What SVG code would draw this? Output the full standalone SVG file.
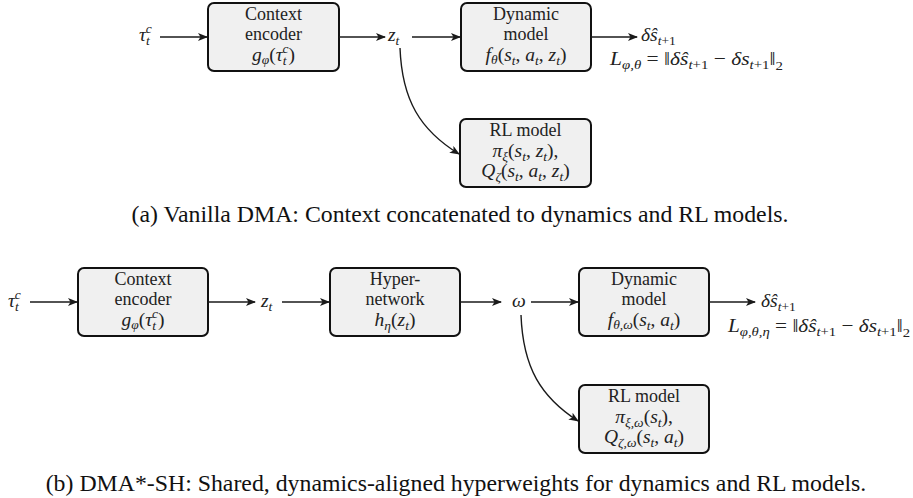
<svg xmlns="http://www.w3.org/2000/svg" width="913" height="498" viewBox="0 0 913 498">
<defs>
<marker id="ah" viewBox="0 0 10 8" refX="9" refY="4" markerWidth="10" markerHeight="8" markerUnits="userSpaceOnUse" orient="auto">
<path d="M0,0 L10,4 L0,8 L2.5,4 z" fill="#1a1a1a"/>
</marker>
<style>
.box{fill:#f0f0f0;stroke:#111;stroke-width:2}
text{font-family:"Liberation Serif","DejaVu Serif",serif}
.t{font-size:18px;fill:#222;text-anchor:middle}
.mt{font-size:19.5px;fill:#222;text-anchor:middle}
.m{font-size:19.5px;fill:#222}
.i{font-style:italic}
.s{font-size:13.5px}
.cap{font-size:23.8px;fill:#111;text-anchor:middle}
.e{fill:none;stroke:#1a1a1a;stroke-width:1.4;marker-end:url(#ah)}
</style>
</defs>
<rect width="913" height="498" fill="#fff"/>

<!-- (a) -->
<g id="a-tau"><text class="m" x="139" y="41"><tspan class="i">τ</tspan><tspan class="s i" dy="4">t</tspan><tspan class="s i" dx="-4" dy="-12">c</tspan></text></g>
<g id="a-enc">
<rect class="box" x="208" y="3" width="131" height="68" rx="6"/>
<text class="t" x="273.5" y="20">Context</text>
<text class="t" x="273.5" y="40">encoder</text>
<text class="mt" x="273.5" y="61"><tspan class="i">g</tspan><tspan class="s i" dy="3">φ</tspan><tspan dy="-3">(</tspan><tspan class="i">τ</tspan><tspan class="s i" dy="4">t</tspan><tspan class="s i" dx="-4" dy="-12">c</tspan><tspan dy="8">)</tspan></text>
</g>
<g id="a-z"><text class="m" x="388" y="41"><tspan class="i">z</tspan><tspan class="s i" dy="4">t</tspan></text></g>
<g id="a-dyn">
<rect class="box" x="461" y="3" width="130" height="68" rx="6"/>
<text class="t" x="526" y="20">Dynamic</text>
<text class="t" x="526" y="40">model</text>
<text class="mt" x="526" y="61"><tspan class="i">f</tspan><tspan class="s i" dy="3">θ</tspan><tspan dy="-3">(</tspan><tspan class="i">s</tspan><tspan class="s i" dy="4">t</tspan><tspan dy="-4">, </tspan><tspan class="i">a</tspan><tspan class="s i" dy="4">t</tspan><tspan dy="-4">, </tspan><tspan class="i">z</tspan><tspan class="s i" dy="4">t</tspan><tspan dy="-4">)</tspan></text>
</g>
<g id="a-out"><text class="m" x="641" y="41"><tspan class="i">δŝ</tspan><tspan class="s i" dy="4">t</tspan><tspan class="s">+1</tspan></text></g>
<g id="a-loss"><text class="m" x="610" y="65" textLength="173" lengthAdjust="spacingAndGlyphs"><tspan class="i">L</tspan><tspan class="s i" dy="4">φ,θ</tspan><tspan dy="-4"> = ‖</tspan><tspan class="i">δŝ</tspan><tspan class="s i" dy="4">t</tspan><tspan class="s">+1</tspan><tspan dy="-4"> − </tspan><tspan class="i">δs</tspan><tspan class="s i" dy="4">t</tspan><tspan class="s">+1</tspan><tspan dy="-4">‖</tspan><tspan class="s" dy="5">2</tspan></text></g>
<g id="a-rl">
<rect class="box" x="460" y="119" width="131" height="68" rx="6"/>
<text class="t" x="525.5" y="136">RL model</text>
<text class="mt" x="525.5" y="157"><tspan class="i">π</tspan><tspan class="s i" dy="4">ξ</tspan><tspan dy="-4">(</tspan><tspan class="i">s</tspan><tspan class="s i" dy="4">t</tspan><tspan dy="-4">, </tspan><tspan class="i">z</tspan><tspan class="s i" dy="4">t</tspan><tspan dy="-4">),</tspan></text>
<text class="mt" x="525.5" y="177"><tspan class="i">Q</tspan><tspan class="s i" dy="4">ζ</tspan><tspan dy="-4">(</tspan><tspan class="i">s</tspan><tspan class="s i" dy="4">t</tspan><tspan dy="-4">, </tspan><tspan class="i">a</tspan><tspan class="s i" dy="4">t</tspan><tspan dy="-4">, </tspan><tspan class="i">z</tspan><tspan class="s i" dy="4">t</tspan><tspan dy="-4">)</tspan></text>
</g>
<text class="cap" x="460" y="222">(a) Vanilla DMA: Context concatenated to dynamics and RL models.</text>

<!-- (b) -->
<g id="b-tau"><text class="m" x="8" y="307"><tspan class="i">τ</tspan><tspan class="s i" dy="4">t</tspan><tspan class="s i" dx="-4" dy="-12">c</tspan></text></g>
<g id="b-enc">
<rect class="box" x="78" y="268" width="130" height="68" rx="6"/>
<text class="t" x="143" y="285">Context</text>
<text class="t" x="143" y="305">encoder</text>
<text class="mt" x="143" y="326"><tspan class="i">g</tspan><tspan class="s i" dy="3">φ</tspan><tspan dy="-3">(</tspan><tspan class="i">τ</tspan><tspan class="s i" dy="4">t</tspan><tspan class="s i" dx="-4" dy="-12">c</tspan><tspan dy="8">)</tspan></text>
</g>
<g id="b-z"><text class="m" x="261" y="307"><tspan class="i">z</tspan><tspan class="s i" dy="4">t</tspan></text></g>
<g id="b-hyp">
<rect class="box" x="330" y="268" width="130" height="68" rx="6"/>
<text class="t" x="395" y="285">Hyper-</text>
<text class="t" x="395" y="305">network</text>
<text class="mt" x="395" y="326"><tspan class="i">h</tspan><tspan class="s i" dy="4">η</tspan><tspan dy="-4">(</tspan><tspan class="i">z</tspan><tspan class="s i" dy="4">t</tspan><tspan dy="-4">)</tspan></text>
</g>
<g id="b-w"><text class="m" x="512" y="307"><tspan class="i">ω</tspan></text></g>
<g id="b-dyn">
<rect class="box" x="579" y="268" width="130" height="68" rx="6"/>
<text class="t" x="644" y="285">Dynamic</text>
<text class="t" x="644" y="305">model</text>
<text class="mt" x="644" y="326"><tspan class="i">f</tspan><tspan class="s i" dy="3">θ,ω</tspan><tspan dy="-3">(</tspan><tspan class="i">s</tspan><tspan class="s i" dy="4">t</tspan><tspan dy="-4">, </tspan><tspan class="i">a</tspan><tspan class="s i" dy="4">t</tspan><tspan dy="-4">)</tspan></text>
</g>
<g id="b-out"><text class="m" x="761" y="307"><tspan class="i">δŝ</tspan><tspan class="s i" dy="4">t</tspan><tspan class="s">+1</tspan></text></g>
<g id="b-loss"><text class="m" x="728" y="332" textLength="182" lengthAdjust="spacingAndGlyphs"><tspan class="i">L</tspan><tspan class="s i" dy="4">φ,θ,η</tspan><tspan dy="-4"> = ‖</tspan><tspan class="i">δŝ</tspan><tspan class="s i" dy="4">t</tspan><tspan class="s">+1</tspan><tspan dy="-4"> − </tspan><tspan class="i">δs</tspan><tspan class="s i" dy="4">t</tspan><tspan class="s">+1</tspan><tspan dy="-4">‖</tspan><tspan class="s" dy="5">2</tspan></text></g>
<g id="b-rl">
<rect class="box" x="579" y="385" width="130" height="68" rx="6"/>
<text class="t" x="644" y="402">RL model</text>
<text class="mt" x="644" y="423"><tspan class="i">π</tspan><tspan class="s i" dy="4">ξ,ω</tspan><tspan dy="-4">(</tspan><tspan class="i">s</tspan><tspan class="s i" dy="4">t</tspan><tspan dy="-4">),</tspan></text>
<text class="mt" x="644" y="443"><tspan class="i">Q</tspan><tspan class="s i" dy="4">ζ,ω</tspan><tspan dy="-4">(</tspan><tspan class="i">s</tspan><tspan class="s i" dy="4">t</tspan><tspan dy="-4">, </tspan><tspan class="i">a</tspan><tspan class="s i" dy="4">t</tspan><tspan dy="-4">)</tspan></text>
</g>
<text class="cap" x="456" y="491">(b) DMA*-SH: Shared, dynamics-aligned hyperweights for dynamics and RL models.</text>

<g id="connectors">
<path class="e" d="M160,37 H207"/>
<path class="e" d="M339,37 H385"/>
<path class="e" d="M412,37 H460"/>
<path class="e" d="M591,37 H637"/>
<path class="e" d="M400,48 C402,100 420,130 459,154"/>
<path class="e" d="M30,302 H77"/>
<path class="e" d="M208,302 H255"/>
<path class="e" d="M282,302 H329"/>
<path class="e" d="M460,302 H501"/>
<path class="e" d="M531,302 H578"/>
<path class="e" d="M709,302 H755"/>
<path class="e" d="M521,315 C523,368 541,397 578,421"/>
</g>
</svg>
